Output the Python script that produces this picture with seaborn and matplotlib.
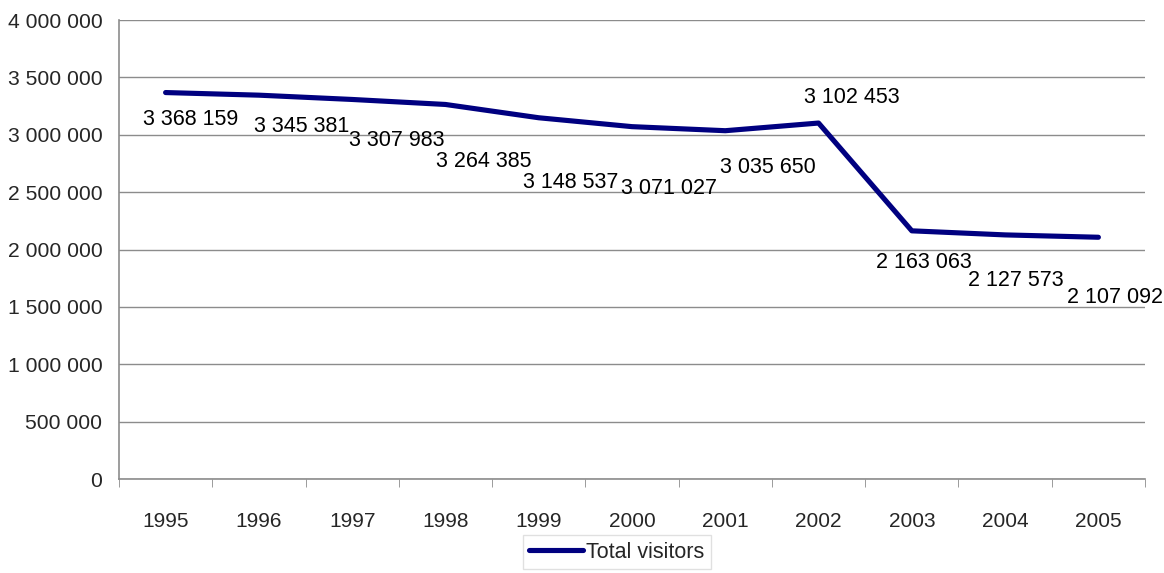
import pandas as pd
import seaborn as sns
import matplotlib.pyplot as plt
from matplotlib.ticker import FuncFormatter, FixedLocator

# Data
years = ["1995", "1996", "1997", "1998", "1999", "2000", "2001", "2002", "2003", "2004", "2005"]
visitors = [3368159, 3345381, 3307983, 3264385, 3148537, 3071027, 3035650, 3102453, 2163063, 2127573, 2107092]
series_name = "Total visitors"

# label offsets (pixels) relative to each point, as in the original layout
label_dx = [25, 43, 45, 38, 32, 37, 43, 33, 12, 11, 17]
label_dy = [-27, -31, -41, -57, -65, -62, -37, 26, -32, -46, -60]

df = pd.DataFrame({"Year": years, "Visitors": visitors})

sns.set_style("white")
plt.rcParams['font.family'] = ['Liberation Sans', 'DejaVu Sans']


def spaced(v, pos=None):
    return f"{int(v):,}".replace(",", " ")


fig = plt.figure(figsize=(11.64, 5.73), dpi=100)
ax = fig.add_axes([0.1022, 0.164, 0.8815, 0.801])

sns.lineplot(data=df, x="Year", y="Visitors", color="#000080", linewidth=3.7,
             label=series_name, ax=ax, sort=False)

for i, v in enumerate(visitors):
    ax.annotate(spaced(v), (i, v), xytext=(label_dx[i], label_dy[i]),
                textcoords="offset pixels", ha="center", va="center",
                fontsize=15.5, color="black")

ax.set_ylim(0, 4000000)
ax.set_xlim(-0.5, len(years) - 0.5)
ax.set_yticks(range(0, 4000001, 500000))
ax.yaxis.set_major_formatter(FuncFormatter(spaced))
ax.grid(axis="y", color="#8c8c8c", linewidth=1)
ax.set_axisbelow(True)

# category ticks sit between categories
ax.xaxis.set_minor_locator(FixedLocator([i + 0.5 for i in range(-1, len(years))]))
ax.tick_params(axis="x", which="major", length=0, labelsize=15, pad=24)
ax.tick_params(axis="x", which="minor", length=6, color="#8c8c8c", direction="out")
ax.tick_params(axis="y", length=7, color="#8c8c8c", direction="out", labelsize=15.2, pad=5)
ax.xaxis.set_tick_params(which="minor", bottom=True)

for s in ["top", "right"]:
    ax.spines[s].set_visible(False)
for s in ["left", "bottom"]:
    ax.spines[s].set_color("#8c8c8c")
    ax.spines[s].set_linewidth(1.2)

ax.set_xlabel("")
ax.set_ylabel("")

ax.get_legend().remove()
handles, labels = ax.get_legend_handles_labels()
leg = fig.legend(handles, labels, loc="center", bbox_to_anchor=(0.53, 0.036),
                 frameon=True, fancybox=False, fontsize=15.5, handlelength=2.5,
                 handletextpad=0.15, borderpad=0.3)
leg.get_frame().set_edgecolor("#d9d9d9")
leg.get_frame().set_linewidth(1)

plt.savefig("out.png", dpi=100)
plt.close()
